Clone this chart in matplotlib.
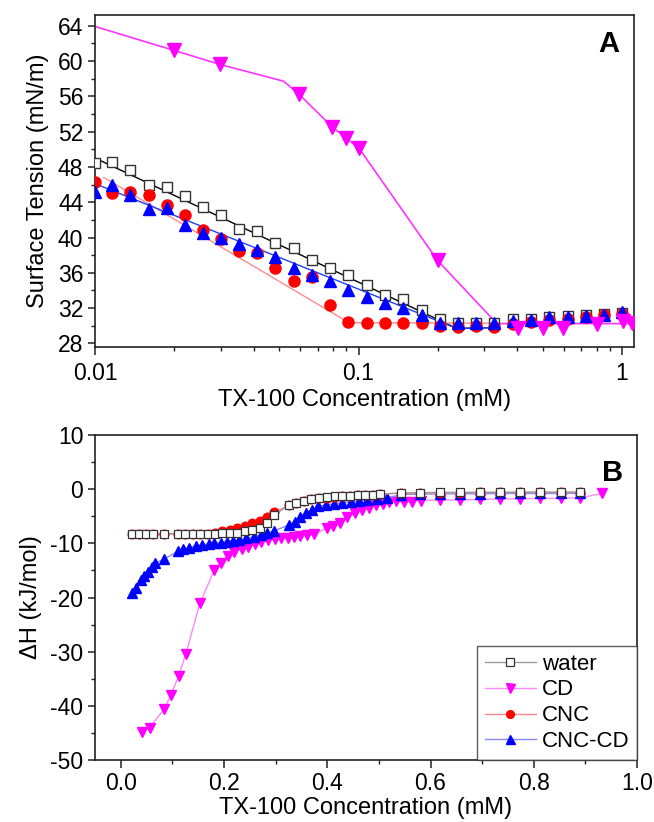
import matplotlib
matplotlib.use('Agg')
import matplotlib.pyplot as plt
from matplotlib.ticker import FixedLocator, MultipleLocator, LogLocator, NullFormatter, FixedFormatter

plt.rcParams['font.family'] = ['Liberation Sans', 'DejaVu Sans']
plt.rcParams['axes.unicode_minus'] = False

# ---------------- Panel A data (surface tension) ----------------
a_x = [0.0100, 0.01157, 0.01358, 0.0160, 0.0187, 0.0219, 0.02568, 0.0300, 0.0351,
       0.0412, 0.0482, 0.0568, 0.0664, 0.0779, 0.0915, 0.1074, 0.1265, 0.148,
       0.1736, 0.203, 0.239, 0.280, 0.328, 0.384, 0.452, 0.529, 0.621, 0.728,
       0.855, 1.0]
a_water = [48.4, 48.6, 47.6, 46.0, 45.7, 44.7, 43.5, 42.6, 41.0, 40.7, 39.4, 38.8,
           37.4, 36.5, 35.8, 34.6, 33.5, 33.0, 31.8, 30.8, 30.3, 30.3, 30.3, 30.8,
           30.8, 31.0, 31.1, 31.2, 31.3, 31.4]
a_cnc = [46.3, 45.0, 45.2, 44.8, 43.7, 42.6, 40.8, 39.8, 38.5, 38.2, 36.6, 35.1,
         35.5, 32.4, 30.4, 30.3, 30.3, 30.3, 30.3, 30.0, 29.9, 30.0, 29.9, 30.25,
         30.45, 30.7, 30.8, 31.0, 31.2, 31.3]
a_cnccd = [45.2, 45.9, 44.8, 43.2, 43.3, 41.4, 40.5, 39.9, 39.3, 38.6, 37.8, 36.5,
           35.7, 35.1, 34.1, 33.3, 32.6, 32.0, 31.2, 30.3, 30.3, 30.3, 30.3, 30.6,
           30.7, 30.95, 31.05, 31.1, 31.2, 31.6]
a_cd_x = [0.0199, 0.0298, 0.0596, 0.0796, 0.0895, 0.1005, 0.1995, 0.404, 0.502,
          0.598, 0.80, 1.01, 1.09]
a_cd = [61.2, 59.6, 56.2, 52.5, 51.3, 50.1, 37.4, 29.8, 29.8, 29.7, 30.2, 30.6, 30.3]

# fitted lines in panel A
fit_water_x = [0.0100, 0.236, 0.33]
fit_water_y = [49.0, 29.7, 29.8]
fit_cnccd_x = [0.0100, 0.236, 0.33]
fit_cnccd_y = [46.1, 29.7, 29.8]
fit_cnc_x = [0.0108, 0.092, 0.33]
fit_cnc_y = [46.8, 30.35, 30.3]
fit_cd_x = [0.0100, 0.0199, 0.0298, 0.052, 0.0596, 0.0796, 0.0895, 0.1005,
            0.1995, 0.335, 1.11]
fit_cd_y = [63.9, 61.2, 59.6, 57.7, 56.2, 52.5, 51.3, 50.1, 37.4, 30.25, 30.25]

# ---------------- Panel B data (ITC enthalpy) ----------------
b_water_x = [0.022, 0.035, 0.048, 0.062, 0.083, 0.110, 0.124, 0.139, 0.153, 0.168,
             0.182, 0.197, 0.211, 0.226, 0.240, 0.255, 0.269, 0.283, 0.297, 0.326,
             0.340, 0.354, 0.368, 0.384, 0.399, 0.414, 0.429, 0.444, 0.459, 0.474,
             0.489, 0.503, 0.542, 0.579, 0.618, 0.657, 0.696, 0.734, 0.774, 0.813,
             0.852, 0.890]
b_water = [-8.2, -8.2, -8.2, -8.2, -8.2, -8.2, -8.2, -8.2, -8.2, -8.2,
           -8.2, -8.1, -8.1, -8.0, -7.8, -7.5, -7.1, -6.3, -4.8, -2.9,
           -2.5, -2.1, -1.85, -1.65, -1.5, -1.35, -1.25, -1.2, -1.1, -1.05,
           -1.0, -0.9, -0.7, -0.65, -0.6, -0.6, -0.6, -0.6, -0.55, -0.55,
           -0.55, -0.55]
b_cnc = [-8.3, -8.3, -8.3, -8.3, -8.3, -8.3, -8.3, -8.3, -8.3, -8.2,
         -8.0, -7.8, -7.5, -7.2, -6.8, -6.3, -5.8, -5.1, -4.3, -3.0,
         -2.6, -2.2, -1.9, -1.7, -1.55, -1.4, -1.3, -1.2, -1.1, -1.05,
         -1.0, -0.9, -0.75, -0.7, -0.65, -0.65, -0.6, -0.6, -0.6, -0.6,
         -0.6, -0.6]
b_cnccd_x = [0.021, 0.029, 0.039, 0.045, 0.053, 0.061, 0.066, 0.084, 0.110, 0.121,
             0.132, 0.145, 0.157, 0.170, 0.181, 0.194, 0.205, 0.218, 0.229, 0.242,
             0.258, 0.271, 0.284, 0.297, 0.326, 0.337, 0.348, 0.358, 0.371, 0.382,
             0.397, 0.413, 0.429, 0.445, 0.461, 0.477, 0.497, 0.516, 0.542, 0.579,
             0.618, 0.657, 0.696, 0.734, 0.774, 0.813, 0.852, 0.890]
b_cnccd = [-19.1, -18.3, -16.8, -16.0, -15.2, -14.3, -13.7, -12.9, -11.5, -11.1,
           -10.8, -10.5, -10.3, -10.1, -10.0, -9.9, -9.7, -9.5, -9.4, -9.1,
           -8.8, -8.4, -8.1, -7.7, -6.6, -6.0, -5.1, -4.4, -3.8, -3.2,
           -2.9, -2.7, -2.5, -2.3, -2.1, -2.0, -1.85, -1.7, -1.0, -0.9,
           -0.9, -0.85, -0.85, -0.8, -0.8, -0.8, -0.8, -0.75]
b_cd_x = [0.042, 0.056, 0.084, 0.097, 0.112, 0.126, 0.153, 0.181, 0.194, 0.207,
          0.220, 0.234, 0.247, 0.260, 0.272, 0.285, 0.298, 0.310, 0.323, 0.336,
          0.348, 0.361, 0.374, 0.399, 0.412, 0.425, 0.439, 0.454, 0.467, 0.480,
          0.494, 0.507, 0.520, 0.533, 0.548, 0.565, 0.581, 0.618, 0.657, 0.696,
          0.734, 0.774, 0.813, 0.852, 0.890, 0.932]
b_cd = [-44.8, -44.0, -40.6, -38.0, -34.5, -30.4, -21.1, -15.0, -13.6, -12.3,
        -11.6, -11.0, -10.6, -10.1, -9.7, -9.4, -9.2, -9.1, -9.0, -8.9,
        -8.7, -8.5, -8.3, -7.2, -6.8, -6.2, -5.2, -4.4, -3.8, -3.4,
        -3.0, -2.7, -2.4, -2.2, -2.4, -2.3, -2.1, -2.0, -2.0, -1.9,
        -1.8, -1.8, -1.7, -1.7, -1.6, -0.8]

legend_labels = ['water', 'CD', 'CNC', 'CNC-CD']

W, H = 654, 822
fig = plt.figure(figsize=(W / 100, H / 100), dpi=100)
axA = fig.add_axes([95 / W, 1 - 347 / H, (634 - 95) / W, (347 - 15) / H])
axB = fig.add_axes([95 / W, 1 - 760 / H, (637 - 95) / W, (760 - 435) / H])

FS_TICK = 16.5
FS_LAB = 17

def style(ax, xpad):
    for s in ax.spines.values():
        s.set_linewidth(1.2)
        s.set_color('#222222')
    ax.tick_params(which='major', direction='out', length=5.4, width=1.1,
                   labelsize=FS_TICK, color='#222222', top=False, right=False)
    ax.tick_params(axis='x', which='major', pad=xpad)
    ax.tick_params(axis='y', which='major', pad=3)
    ax.tick_params(which='minor', direction='out', length=3.0, width=1.0,
                   color='#222222', top=False, right=False)

# ---- Panel A ----
axA.plot(fit_water_x, fit_water_y, '-', color='black', lw=1.0, zorder=2)
axA.plot(fit_cnc_x, fit_cnc_y, '-', color='#ff8a8a', lw=1.0, zorder=2)
axA.plot(fit_cnccd_x, fit_cnccd_y, '-', color='#1f3fff', lw=1.0, zorder=2)
axA.plot(fit_cd_x, fit_cd_y, '-', color='#ff33ff', lw=1.2, zorder=2)
axA.plot(a_x, a_water, 's', ms=7, mfc='white', mec='#333333', mew=1.0, zorder=3)
axA.plot(a_x, a_cnc, 'o', ms=8, mfc='#ff0000', mec='#ff0000', zorder=4)
axA.plot(a_x, a_cnccd, '^', ms=8.5, mfc='#0000ff', mec='#0000ff', zorder=5)
axA.plot(a_cd_x, a_cd, 'v', ms=9.5, mfc='#ff00ff', mec='#ff00ff', zorder=6)

axA.set_xscale('log')
axA.set_xlim(0.01, 1.11)
axA.set_ylim(27.6, 65.2)
axA.xaxis.set_major_locator(FixedLocator([0.01, 0.1, 1]))
axA.xaxis.set_major_formatter(FixedFormatter(['0.01', '0.1', '1']))
axA.xaxis.set_minor_locator(LogLocator(base=10, subs=range(2, 10)))
axA.xaxis.set_minor_formatter(NullFormatter())
axA.yaxis.set_major_locator(MultipleLocator(4))
axA.yaxis.set_minor_locator(MultipleLocator(2))
style(axA, 5.5)
axA.set_xlabel('TX-100 Concentration (mM)', fontsize=FS_LAB, labelpad=3)
axA.set_ylabel('Surface Tension (mN/m)', fontsize=FS_LAB, labelpad=6)
axA.text(0.972, 0.913, 'A', transform=axA.transAxes, fontsize=21, fontweight='bold',
         ha='right', va='center')

# ---- Panel B ----
lw_b = 1.0
hw, = axB.plot(b_water_x, b_water, '-', color='#9a9a9a', lw=lw_b, zorder=5,
               marker='s', ms=5.8, mfc='white', mec='#333333', mew=0.9)
hcd, = axB.plot(b_cd_x, b_cd, '-', color='#ff88ff', lw=lw_b, zorder=2,
                marker='v', ms=7.2, mfc='#ff00ff', mec='#ff00ff')
hcnc, = axB.plot(b_water_x, b_cnc, '-', color='#ff8888', lw=lw_b, zorder=4,
                 marker='o', ms=6.2, mfc='#ff0000', mec='#ff0000')
hcc, = axB.plot(b_cnccd_x, b_cnccd, '-', color='#8888ff', lw=lw_b, zorder=3,
                marker='^', ms=7.2, mfc='#0000ff', mec='#0000ff')

axB.set_xlim(-0.05, 1.0)
axB.set_ylim(-50, 10)
axB.xaxis.set_major_locator(MultipleLocator(0.2))
axB.xaxis.set_minor_locator(MultipleLocator(0.1))
axB.yaxis.set_major_locator(MultipleLocator(10))
axB.yaxis.set_minor_locator(MultipleLocator(5))
axB.xaxis.set_major_formatter(FixedFormatter(['', '0.0', '0.2', '0.4', '0.6', '0.8', '1.0']))
style(axB, 3.5)
axB.set_xlabel('TX-100 Concentration (mM)', fontsize=FS_LAB, labelpad=1)
axB.set_ylabel('\u0394H (kJ/mol)', fontsize=FS_LAB, labelpad=6)
axB.text(0.974, 0.883, 'B', transform=axB.transAxes, fontsize=21, fontweight='bold',
         ha='right', va='center')

leg = axB.legend([hw, hcd, hcnc, hcc], legend_labels, loc='lower right',
                 fontsize=16, frameon=True, fancybox=False, borderaxespad=0.0,
                 handlelength=2.3, handletextpad=0.25, labelspacing=0.22,
                 borderpad=0.35, markerscale=0.9)
leg.get_frame().set_edgecolor('#333333')
leg.get_frame().set_linewidth(1.0)

fig.savefig('out.png', dpi=100)
